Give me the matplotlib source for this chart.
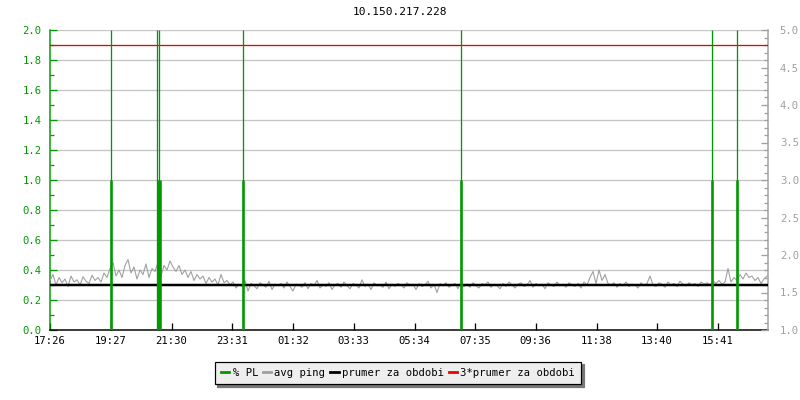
import matplotlib
matplotlib.use("Agg")
import matplotlib.pyplot as plt
from matplotlib.lines import Line2D
from matplotlib.ticker import MultipleLocator, FixedLocator, FormatStrFormatter

plt.rcParams['font.family'] = ['DejaVu Sans Mono']

title = "10.150.217.228"

# x axis: minutes since start (17:26)
x_max = 1436
tick_labels = ["17:26", "19:27", "21:30", "23:31", "01:32", "03:33",
               "05:34", "07:35", "09:36", "11:38", "13:40", "15:41"]
tick_minutes = [0, 121, 243, 364, 486, 607, 729, 850, 971, 1093, 1214, 1336]

# avg ping (right axis), one sample every 6 minutes
ping_step = 6
ping = [1.66, 1.74, 1.60, 1.70, 1.63, 1.68, 1.58, 1.72, 1.64, 1.67, 1.60, 1.71, 1.65, 1.62, 1.73, 1.66, 1.70,
        1.64, 1.76, 1.70, 1.82,
        1.90, 1.72, 1.80, 1.70, 1.86, 1.94, 1.76, 1.84, 1.68, 1.80, 1.74, 1.88, 1.70, 1.82, 1.78, 1.90,
        1.72, 1.86, 1.80, 1.92, 1.84, 1.78,
        1.86, 1.74, 1.80, 1.70, 1.78, 1.66, 1.74, 1.68,
        1.72, 1.62, 1.70, 1.64, 1.68, 1.60, 1.74, 1.63, 1.66, 1.60,
        1.64, 1.56, 1.61, 1.58, 1.66, 1.52, 1.62, 1.59, 1.55, 1.63,
        1.60, 1.57, 1.65, 1.54, 1.61, 1.59, 1.62, 1.56, 1.64, 1.58,
        1.52, 1.61, 1.60, 1.57, 1.63, 1.55, 1.62, 1.59, 1.66, 1.56,
        1.61, 1.58, 1.63, 1.54, 1.60, 1.62, 1.57, 1.64, 1.59, 1.55,
        1.62, 1.60, 1.56, 1.67, 1.58, 1.61, 1.54, 1.63, 1.59, 1.60,
        1.57, 1.64, 1.55, 1.61, 1.58, 1.62, 1.60, 1.56, 1.63, 1.59,
        1.61, 1.54, 1.62, 1.58, 1.60, 1.65, 1.56, 1.61, 1.50, 1.62,
        1.59, 1.63, 1.57, 1.60, 1.62, 1.55, 1.64, 1.58, 1.61, 1.57,
        1.63, 1.59, 1.56, 1.62, 1.60, 1.64, 1.57, 1.61, 1.59, 1.55,
        1.62, 1.58, 1.64, 1.60, 1.56, 1.61, 1.63, 1.58, 1.60, 1.66,
        1.57, 1.62, 1.59, 1.61, 1.55, 1.63, 1.60, 1.58, 1.64, 1.59,
        1.61, 1.57, 1.63, 1.60, 1.58, 1.62, 1.56, 1.64, 1.60, 1.70,
        1.78, 1.62, 1.80, 1.66, 1.74, 1.62,
        1.60, 1.63, 1.57, 1.62, 1.59, 1.64, 1.58, 1.61, 1.60, 1.56,
        1.63, 1.59, 1.62, 1.72, 1.60, 1.58, 1.63, 1.61, 1.57, 1.64,
        1.60, 1.62, 1.58, 1.65, 1.61, 1.59, 1.63, 1.60, 1.62, 1.58,
        1.64, 1.61, 1.63, 1.60, 1.65, 1.62, 1.66, 1.61, 1.64,
        1.82, 1.64, 1.70, 1.66, 1.74, 1.68, 1.76, 1.70, 1.72, 1.66, 1.70, 1.62, 1.68, 1.72]
ping_t = [i * ping_step for i in range(len(ping))]

# packet loss events (left axis)
pl_spike_t = [122, 213, 217, 385, 821, 1324, 1373]
pl_spike_top = [2.0, 2.0, 2.0, 2.0, 2.0, 2.0, 2.0]
pl_bar_t = [122, 215, 219, 385, 821, 1324, 1373]
pl_bar_val = [1.0, 1.0, 1.0, 1.0, 1.0, 1.0, 1.0]

prumer = 1.6
prumer3 = 4.8

GREEN = "#009900"
GRAY = "#a0a0a0"
GRID = "#c4c4c4"
PX = 0.72  # 1 pixel in points at dpi 100

fig = plt.figure(figsize=(8, 4), dpi=100)
ax = fig.add_axes([50/800, 70/400, 718/800, 300/400])
ax2 = ax.twinx()

ax.set_xlim(0, x_max)
ax.set_ylim(0, 2.0)
ax2.set_ylim(1.0, 5.0)

ax.yaxis.set_major_locator(MultipleLocator(0.2))
ax.yaxis.set_minor_locator(MultipleLocator(0.1))
ax.grid(axis='y', which='major', color=GRID, lw=PX * 1.3, zorder=0)
ax.set_axisbelow(True)

ax2.yaxis.set_major_locator(MultipleLocator(0.5))
ax2.yaxis.set_minor_locator(MultipleLocator(0.1))

ax.xaxis.set_major_locator(FixedLocator(tick_minutes))
ax.set_xticklabels(tick_labels)

# ping and averages on right axis
ax2.plot(ping_t, ping, color=GRAY, lw=PX * 1.1, zorder=2)
ax2.axhline(prumer, color="black", lw=PX * 2.5, zorder=3)
ax2.axhline(prumer3, color="#ee0000", lw=PX * 1.3, zorder=3)

# packet loss on top
ax3 = ax.twinx()
ax3.set_ylim(ax.get_ylim())
ax3.set_xlim(0, x_max)
ax3.axis('off')
ax3.vlines(pl_spike_t, 0, pl_spike_top, color=GREEN, lw=PX * 1.3, zorder=4)
ax3.vlines(pl_bar_t, 0, pl_bar_val, color=GREEN, lw=PX * 2.6, zorder=4)

# spines & ticks
for a in (ax, ax2):
    a.spines['top'].set_visible(False)
ax.spines['left'].set_color(GREEN)
ax.spines['left'].set_linewidth(PX * 1.5)
ax.spines['bottom'].set_color('black')
ax.spines['bottom'].set_linewidth(PX * 1.5)
ax.spines['right'].set_visible(False)
ax2.spines['left'].set_visible(False)
ax2.spines['bottom'].set_visible(False)
ax2.spines['right'].set_color(GRAY)
ax2.spines['right'].set_linewidth(PX * 1.5)

fs = 7.6
ax.tick_params(axis='y', which='both', direction='in', colors=GREEN, labelsize=fs, pad=6)
ax.tick_params(axis='y', which='major', length=5, width=PX * 1.3)
ax.tick_params(axis='y', which='minor', length=3, width=PX * 1.3)
ax.tick_params(axis='x', which='major', direction='in', length=5, width=PX * 1.3,
               colors='black', labelsize=fs, pad=4)
ax2.tick_params(axis='y', which='both', direction='in', colors=GRAY, labelsize=fs, pad=8.5)
ax2.tick_params(axis='y', which='major', length=5, width=PX * 1.3)
ax2.tick_params(axis='y', which='minor', length=3, width=PX * 1.3)
ax.yaxis.set_major_formatter(FormatStrFormatter('%.1f'))
ax2.yaxis.set_major_formatter(FormatStrFormatter('%.1f'))

fig.text(400/800, 1 - 12/400, title, ha='center', va='center', fontsize=8, color='black')

handles = [Line2D([], [], color=GREEN, lw=2),
           Line2D([], [], color=GRAY, lw=2),
           Line2D([], [], color='black', lw=2),
           Line2D([], [], color='#ee0000', lw=2)]
labels = ["% PL", "avg ping", "prumer za obdobi", "3*prumer za obdobi"]
leg = fig.legend(handles, labels, loc='center', bbox_to_anchor=(398/800, 1 - 373/400),
                 ncol=4, fontsize=fs, frameon=True, fancybox=False,
                 shadow={'color': '#777777', 'alpha': 1},
                 handlelength=0.8, handletextpad=0.3, columnspacing=0.45,
                 borderpad=0.6, borderaxespad=0)
leg.get_frame().set_facecolor('#eeeeee')
leg.get_frame().set_edgecolor('black')
leg.get_frame().set_linewidth(PX * 1.2)
leg.get_frame().set_alpha(1)

fig.savefig("out.png", dpi=100)
